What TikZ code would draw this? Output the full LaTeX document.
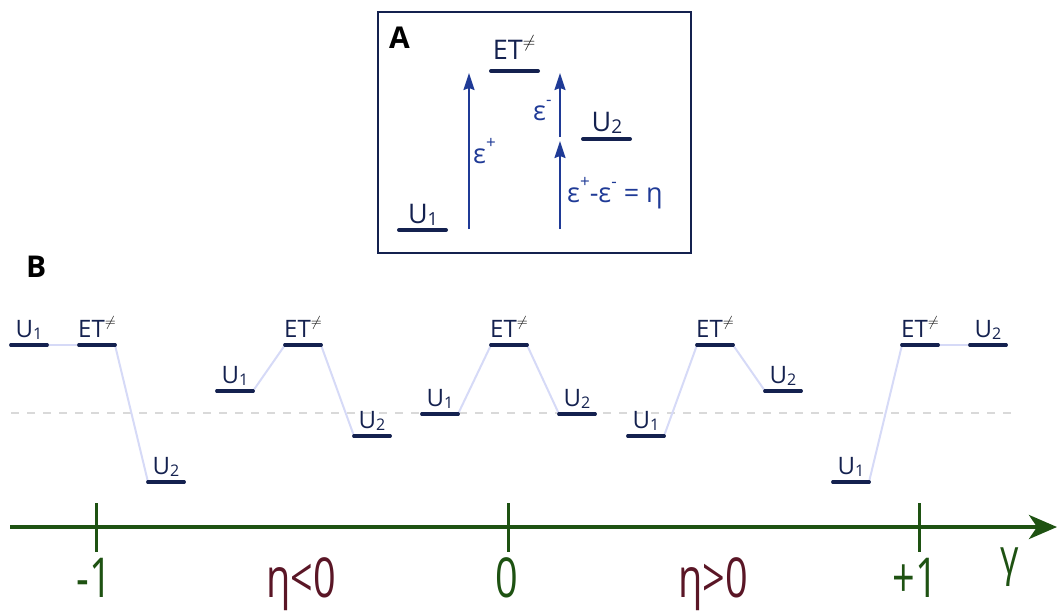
\documentclass[tikz,border=0pt]{standalone}
\usepackage{fontspec}
\setmainfont{Open Sans}
\newfontfamily\axfont{Open Sans}[FakeStretch=0.72]
\usetikzlibrary{arrows.meta}
\definecolor{navy}{HTML}{14214F}
\definecolor{arrblue}{HTML}{1F3A96}
\definecolor{lav}{HTML}{D6DAF7}
\definecolor{dgray}{HTML}{D9D9D9}
\definecolor{axgreen}{HTML}{1E5212}
\definecolor{maroon}{HTML}{5A1626}
\newcommand\lsub[2]{\raisebox{-2pt}{\fontsize{#1}{#1}\selectfont #2}}
\newcommand\etneq[1]{ET\raisebox{0.42em}{\fontsize{#1}{#1}\selectfont\color{black}$\neq$}}
\newcommand\esup[1]{\raisebox{0.55em}{\fontsize{17}{17}\selectfont #1}}
\newcommand\level[4]{%
  \coordinate (#1-l) at (#2,#3);
  \coordinate (#1-r) at (#2+36,#3);
  \draw[bar] (#1-l) -- (#1-r);
  \node[lab, anchor=base] (#1-t) at (#2+18,#3-8) {#4};
}
\begin{document}
\begin{tikzpicture}[x=1pt,y=-1pt,
  bar/.style={line width=3.5pt, line cap=round, draw=navy},
  link/.style={line width=2pt, draw=lav},
  lab/.style={font=\fontsize{24}{24}\selectfont, text=navy, inner sep=0pt},
  alab/.style={font=\fontsize{27}{27}\selectfont, text=navy, inner sep=0pt},
  eps/.style={font=\fontsize{27}{27}\selectfont, text=arrblue, inner sep=0pt},
  earrow/.style={draw=arrblue, line width=2pt, -{Stealth[length=17pt,width=11pt,inset=2pt]}},
  axisline/.style={draw=axgreen, line width=4pt, -{Stealth[length=28pt,width=24pt,inset=8pt]}},
  tick/.style={draw=axgreen, line width=3pt},
  axlab/.style={font=\axfont\fontsize{55}{55}\selectfont, inner sep=0pt, anchor=base},
  boxtitle/.style={font=\bfseries\fontsize{30}{30}\selectfont, text=black, inner sep=0pt, anchor=base west}
]
\useasboundingbox (0,0) rectangle (1058,611);

% ---------- Panel A ----------
\draw[navy, line width=2pt] (378,12) rectangle (691,253);
\node[boxtitle] (titleA) at (389,48) {A};

\coordinate (aet-l) at (491,71);  \coordinate (aet-r) at (538,71);
\coordinate (au1-l) at (399,230); \coordinate (au1-r) at (446,230);
\coordinate (au2-l) at (583,139); \coordinate (au2-r) at (630,139);
\draw[bar, line width=4pt] (aet-l) -- (aet-r);
\draw[bar, line width=4pt] (au1-l) -- (au1-r);
\draw[bar, line width=4pt] (au2-l) -- (au2-r);
\node[alab, anchor=base] (aet-t) at (514,59) {\etneq{17}};
\node[alab, anchor=base] (au1-t) at (423,223) {U\lsub{18}{1}};
\node[alab, anchor=base] (au2-t) at (607,131) {U\lsub{19}{2}};

\coordinate (a1s) at (469,229); \coordinate (a1e) at (469,73);
\coordinate (a2s) at (560,137); \coordinate (a2e) at (560,73);
\coordinate (a3s) at (560,229); \coordinate (a3e) at (560,141);
\draw[earrow] (a1s) -- (a1e);
\draw[earrow] (a2s) -- (a2e);
\draw[earrow] (a3s) -- (a3e);
\node[eps, anchor=base west] (epsp) at (473,163) {ε\esup{+}};
\node[eps, anchor=base west] (epsm) at (533,120) {ε\esup{-}};
\node[eps, anchor=base west] (eta) at (567,202) {ε\esup{+}-ε\esup{-} = η};

% ---------- Panel B ----------
\node[boxtitle] (titleB) at (26,277) {B};
\coordinate (dash-l) at (11,413); \coordinate (dash-r) at (1018,413);
\draw[draw=dgray, line width=2pt, dash pattern=on 8pt off 8pt] (dash-l) -- (dash-r);

\level{g1u1}{11}{345}{U\lsub{16}{1}}
\level{g1et}{79}{345}{\etneq{14}}
\level{g1u2}{148}{482}{U\lsub{16}{2}}
\level{g2u1}{217}{391}{U\lsub{16}{1}}
\level{g2et}{285}{345}{\etneq{14}}
\level{g2u2}{354}{436}{U\lsub{16}{2}}
\level{g3u1}{422}{414}{U\lsub{16}{1}}
\level{g3et}{491}{345}{\etneq{14}}
\level{g3u2}{559}{414}{U\lsub{16}{2}}
\level{g4u1}{628}{436}{U\lsub{16}{1}}
\level{g4et}{697}{345}{\etneq{14}}
\level{g4u2}{765}{391}{U\lsub{16}{2}}
\level{g5u1}{833}{482}{U\lsub{16}{1}}
\level{g5et}{902}{345}{\etneq{14}}
\level{g5u2}{970}{345}{U\lsub{16}{2}}

\foreach \g in {g1,g2,g3,g4,g5}{
  \draw[link, shorten <=2pt, shorten >=2pt] (\g u1-r) -- (\g et-l);
  \draw[link, shorten <=2pt, shorten >=2pt] (\g et-r) -- (\g u2-l);
}
\foreach \g in {g1,g2,g3,g4,g5}{
  \draw[bar] (\g u1-l) -- (\g u1-r);
  \draw[bar] (\g et-l) -- (\g et-r);
  \draw[bar] (\g u2-l) -- (\g u2-r);
}

% ---------- Axis ----------
\coordinate (ax-s) at (10,527); \coordinate (ax-e) at (1057,527);
\draw[axisline] (ax-s) -- (ax-e);
\coordinate (t1a) at (96,503); \coordinate (t1b) at (96,552);
\coordinate (t2a) at (508,503); \coordinate (t2b) at (508,552);
\coordinate (t3a) at (919,503); \coordinate (t3b) at (919,552);
\draw[tick] (t1a) -- (t1b);
\draw[tick] (t2a) -- (t2b);
\draw[tick] (t3a) -- (t3b);
\node[axlab, text=axgreen] (lm1) at (94,597) {-1};
\node[axlab, text=axgreen] (l0) at (507,597) {0};
\node[axlab, text=axgreen] (lp1) at (915,597) {+1};
\node[axlab, text=maroon] (lneg) at (301,597) {η<0};
\node[axlab, text=maroon] (lpos) at (713,597) {η>0};
\node[axlab, text=axgreen, font=\axfont\fontsize{50}{50}\selectfont] (gam) at (1010,574) {γ};
\end{tikzpicture}
\end{document}
